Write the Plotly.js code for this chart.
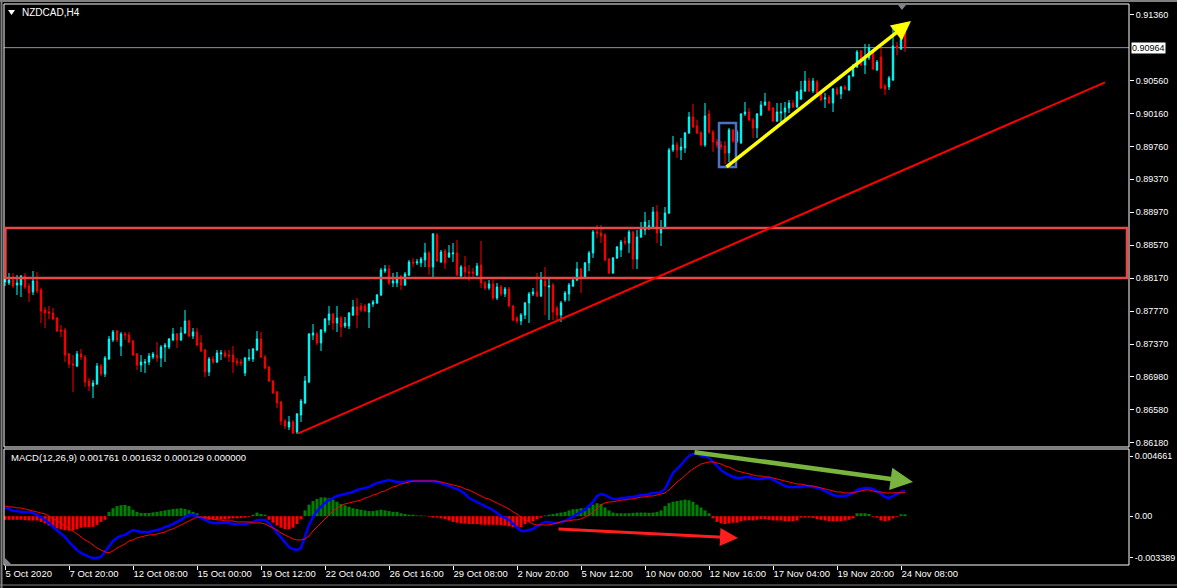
<!DOCTYPE html>
<html><head><meta charset="utf-8">
<script src="https://cdn.plot.ly/plotly-3.0.1.min.js"></script>
<style>html,body{margin:0;padding:0;background:#000;overflow:hidden}#chart{width:1177px;height:588px}</style>
</head><body><div id="chart"></div>
<script>
const symbolTitle = 'NZDCAD,H4';
const macdTitle = 'MACD(12,26,9) 0.001761 0.001632 0.000129 0.000000';

const openP = [
0.88124,0.88112,0.88148,0.88087,0.88087,0.88196,0.88075,0.88003,0.88136,0.88027,
0.87784,0.87760,0.87748,0.87687,0.87542,0.87542,0.87252,0.87130,0.87105,0.87252,
0.87215,0.86924,0.86863,0.86888,0.87105,0.87009,0.87191,0.87421,0.87530,0.87348,
0.87494,0.87481,0.87409,0.87252,0.87117,0.87142,0.87154,0.87215,0.87239,0.87203,
0.87336,0.87336,0.87421,0.87494,0.87421,0.87506,0.87651,0.87469,0.87518,0.87385,
0.87300,0.87033,0.87191,0.87154,0.87252,0.87264,0.87239,0.87239,0.87166,0.87154,
0.87021,0.87191,0.87191,0.87300,0.87433,0.87215,0.87093,0.86924,0.86791,0.86670,
0.86439,0.86366,0.86427,0.86306,0.86512,0.86658,0.86912,0.87481,0.87494,0.87385,
0.87530,0.87663,0.87736,0.87627,0.87687,0.87590,0.87590,0.87723,0.87821,0.87833,
0.87833,0.87760,0.87857,0.87870,0.87966,0.88257,0.88282,0.88112,0.88112,0.88196,
0.88087,0.88208,0.88367,0.88355,0.88355,0.88391,0.88476,0.88306,0.88694,0.88367,
0.88500,0.88427,0.88464,0.88476,0.88196,0.88306,0.88245,0.88245,0.88208,0.88330,
0.88112,0.88051,0.88100,0.87930,0.88063,0.87979,0.88039,0.87833,0.87687,0.87651,
0.87723,0.87870,0.87979,0.88003,0.87954,0.88136,0.88063,0.88087,0.87809,0.87723,
0.87906,0.87979,0.88075,0.88148,0.88282,0.88184,0.88355,0.88476,0.88730,0.88718,
0.88694,0.88403,0.88233,0.88415,0.88512,0.88621,0.88597,0.88730,0.88403,0.88669,
0.88754,0.88790,0.88790,0.88973,0.88718,0.88778,0.88960,0.89724,0.89785,0.89724,
0.89748,0.89930,0.90124,0.90015,0.89930,0.89785,0.90160,0.89942,0.89821,0.89785,
0.89773,0.89688,0.89966,0.89833,0.89809,0.90160,0.90184,0.90087,0.89991,0.90148,
0.90269,0.90306,0.90233,0.90075,0.90172,0.90184,0.90233,0.90294,0.90245,0.90342,
0.90439,0.90560,0.90439,0.90548,0.90415,0.90342,0.90366,0.90294,0.90463,0.90403,
0.90488,0.90451,0.90621,0.90730,0.90924,0.90754,0.90839,0.90924,0.90694,0.90851,
0.90500,0.90488,0.90572,0.90984,0.90948,0.91154];

const highP = [
0.88196,0.88233,0.88233,0.88208,0.88208,0.88233,0.88112,0.88257,0.88245,0.88051,
0.87821,0.87833,0.87809,0.87699,0.87602,0.87566,0.87264,0.87239,0.87288,0.87312,
0.87239,0.86960,0.86936,0.87142,0.87130,0.87227,0.87469,0.87542,0.87542,0.87518,
0.87518,0.87518,0.87421,0.87264,0.87239,0.87191,0.87264,0.87276,0.87397,0.87360,
0.87385,0.87445,0.87566,0.87506,0.87578,0.87784,0.87663,0.87566,0.87566,0.87481,
0.87312,0.87215,0.87227,0.87300,0.87300,0.87300,0.87300,0.87348,0.87203,0.87191,
0.87215,0.87312,0.87324,0.87530,0.87518,0.87239,0.87105,0.86936,0.86803,0.86682,
0.86463,0.86500,0.86451,0.86536,0.86706,0.86984,0.87506,0.87614,0.87518,0.87554,
0.87687,0.87833,0.87748,0.87833,0.87711,0.87699,0.87760,0.87906,0.87930,0.87870,
0.87857,0.87870,0.87906,0.87979,0.88294,0.88330,0.88330,0.88233,0.88245,0.88208,
0.88245,0.88391,0.88415,0.88403,0.88427,0.88597,0.88500,0.88718,0.88718,0.88512,
0.88524,0.88572,0.88597,0.88633,0.88330,0.88439,0.88330,0.88294,0.88355,0.88621,
0.88136,0.88148,0.88148,0.88112,0.88087,0.88063,0.88063,0.87845,0.87711,0.87748,
0.87882,0.88003,0.88051,0.88233,0.88245,0.88306,0.88172,0.88112,0.87833,0.87894,
0.88015,0.88112,0.88172,0.88367,0.88294,0.88367,0.88500,0.88754,0.88815,0.88815,
0.88718,0.88415,0.88427,0.88560,0.88633,0.88669,0.88754,0.88742,0.88754,0.88851,
0.88973,0.88875,0.89033,0.89057,0.88875,0.89033,0.89748,0.89894,0.89821,0.89869,
0.89942,0.90184,0.90281,0.90087,0.89954,0.90294,0.90209,0.89966,0.89857,0.89833,
0.89833,0.89991,0.89979,0.89966,0.90172,0.90306,0.90233,0.90112,0.90172,0.90318,
0.90415,0.90318,0.90245,0.90294,0.90294,0.90306,0.90330,0.90330,0.90439,0.90560,
0.90681,0.90597,0.90597,0.90572,0.90427,0.90415,0.90390,0.90475,0.90488,0.90500,
0.90512,0.90633,0.90766,0.90936,0.90936,0.91009,0.91009,0.90948,0.90815,0.90960,
0.90524,0.90621,0.91203,0.91033,0.91203,0.91178];

const lowP = [
0.88075,0.88087,0.88051,0.87966,0.87942,0.88039,0.87882,0.87966,0.87991,0.87627,
0.87566,0.87675,0.87663,0.87518,0.87457,0.87154,0.87081,0.86791,0.87093,0.87178,
0.86851,0.86803,0.86718,0.86875,0.86984,0.86972,0.87178,0.87397,0.87397,0.87227,
0.87421,0.87385,0.87227,0.87057,0.87033,0.87021,0.87117,0.87191,0.87154,0.87093,
0.87154,0.87312,0.87409,0.87324,0.87409,0.87494,0.87457,0.87433,0.87348,0.87276,
0.86972,0.86984,0.87130,0.87142,0.87178,0.87203,0.87154,0.87021,0.87105,0.87105,
0.86984,0.87166,0.87154,0.87288,0.87203,0.87069,0.86912,0.86767,0.86597,0.86390,
0.86342,0.86330,0.86282,0.86282,0.86427,0.86646,0.86900,0.87421,0.87360,0.87288,
0.87506,0.87602,0.87542,0.87518,0.87457,0.87566,0.87554,0.87711,0.87566,0.87760,
0.87760,0.87566,0.87821,0.87857,0.87954,0.88233,0.88087,0.88063,0.88063,0.88027,
0.88075,0.88196,0.88306,0.88330,0.88306,0.88306,0.88208,0.88184,0.88367,0.88355,
0.88282,0.88415,0.88367,0.88196,0.88172,0.88184,0.88136,0.88160,0.88196,0.88051,
0.88027,0.88027,0.87906,0.87906,0.87954,0.87942,0.87821,0.87651,0.87627,0.87602,
0.87675,0.87627,0.87954,0.87942,0.87942,0.87723,0.87663,0.87663,0.87663,0.87639,
0.87882,0.87894,0.88063,0.88136,0.87991,0.88172,0.88257,0.88415,0.88657,0.88597,
0.88379,0.88221,0.88221,0.88403,0.88427,0.88572,0.88476,0.88282,0.88282,0.88657,
0.88694,0.88754,0.88778,0.88597,0.88560,0.88766,0.88948,0.89700,0.89627,0.89603,
0.89688,0.89918,0.89991,0.89918,0.89773,0.89761,0.89918,0.89700,0.89748,0.89724,
0.89554,0.89578,0.89809,0.89809,0.89797,0.90136,0.90075,0.89869,0.89869,0.90136,
0.90257,0.90197,0.90063,0.90063,0.90051,0.90087,0.90172,0.90233,0.90233,0.90330,
0.90427,0.90427,0.90415,0.90390,0.90318,0.90233,0.90281,0.90184,0.90390,0.90342,
0.90451,0.90439,0.90609,0.90718,0.90742,0.90645,0.90815,0.90694,0.90681,0.90463,
0.90390,0.90451,0.90560,0.90875,0.90936,0.90912];

const closeP = [
0.88160,0.88148,0.88075,0.88112,0.88196,0.88063,0.87991,0.88136,0.88015,0.87772,
0.87748,0.87748,0.87675,0.87530,0.87530,0.87239,0.87130,0.87117,0.87252,0.87215,
0.86912,0.86863,0.86900,0.87105,0.87009,0.87203,0.87433,0.87518,0.87421,0.87494,
0.87481,0.87397,0.87239,0.87117,0.87154,0.87154,0.87227,0.87252,0.87203,0.87336,
0.87360,0.87433,0.87494,0.87421,0.87506,0.87651,0.87469,0.87518,0.87360,0.87288,
0.87033,0.87191,0.87154,0.87264,0.87264,0.87227,0.87227,0.87154,0.87142,0.87142,
0.87203,0.87203,0.87312,0.87433,0.87215,0.87081,0.86924,0.86779,0.86658,0.86439,
0.86378,0.86427,0.86294,0.86524,0.86682,0.86924,0.87494,0.87506,0.87385,0.87542,
0.87675,0.87736,0.87627,0.87687,0.87578,0.87627,0.87748,0.87821,0.87723,0.87784,
0.87772,0.87857,0.87882,0.87966,0.88269,0.88282,0.88112,0.88136,0.88184,0.88087,
0.88221,0.88367,0.88355,0.88367,0.88403,0.88476,0.88306,0.88706,0.88379,0.88488,
0.88355,0.88476,0.88476,0.88208,0.88306,0.88245,0.88233,0.88233,0.88318,0.88112,
0.88051,0.88100,0.87930,0.88063,0.87979,0.88039,0.87833,0.87663,0.87651,0.87723,
0.87870,0.87979,0.88003,0.87954,0.88148,0.88075,0.88075,0.87760,0.87723,0.87870,
0.87991,0.88087,0.88148,0.88282,0.88184,0.88355,0.88476,0.88730,0.88718,0.88682,
0.88391,0.88233,0.88415,0.88548,0.88609,0.88597,0.88730,0.88403,0.88669,0.88766,
0.88851,0.88803,0.88973,0.88718,0.88778,0.88960,0.89724,0.89785,0.89724,0.89761,
0.89930,0.90124,0.90003,0.89930,0.89785,0.90136,0.89942,0.89821,0.89785,0.89761,
0.89688,0.89966,0.89833,0.89942,0.90160,0.90184,0.90087,0.89991,0.90160,0.90269,
0.90306,0.90209,0.90075,0.90184,0.90184,0.90233,0.90294,0.90245,0.90427,0.90451,
0.90560,0.90439,0.90560,0.90415,0.90330,0.90354,0.90294,0.90463,0.90403,0.90488,
0.90463,0.90621,0.90730,0.90912,0.90754,0.90839,0.90960,0.90706,0.90790,0.90475,
0.90463,0.90597,0.90984,0.90960,0.91166,0.90964];

const macdMain = [
0.00057,0.00050,0.00036,0.00036,0.00029,0.00029,0.00029,0.00022,0.00008,-0.00006,
-0.00026,-0.00047,-0.00075,-0.00096,-0.00117,-0.00144,-0.00179,-0.00207,-0.00235,-0.00255,
-0.00269,-0.00283,-0.00290,-0.00290,-0.00283,-0.00248,-0.00207,-0.00172,-0.00151,-0.00137,
-0.00130,-0.00110,-0.00096,-0.00103,-0.00110,-0.00110,-0.00110,-0.00103,-0.00096,-0.00089,
-0.00075,-0.00068,-0.00054,-0.00040,-0.00026,-0.00006,0.00008,0.00008,0.00001,-0.00012,
-0.00026,-0.00040,-0.00047,-0.00047,-0.00047,-0.00047,-0.00047,-0.00054,-0.00054,-0.00054,
-0.00054,-0.00047,-0.00040,-0.00026,-0.00026,-0.00026,-0.00047,-0.00082,-0.00117,-0.00151,
-0.00179,-0.00214,-0.00228,-0.00235,-0.00221,-0.00144,-0.00061,-0.00006,0.00036,0.00064,
0.00092,0.00112,0.00126,0.00140,0.00147,0.00154,0.00161,0.00168,0.00182,0.00189,
0.00196,0.00203,0.00217,0.00230,0.00237,0.00244,0.00251,0.00244,0.00237,0.00237,
0.00237,0.00244,0.00244,0.00244,0.00244,0.00244,0.00244,0.00244,0.00237,0.00230,
0.00217,0.00210,0.00196,0.00189,0.00175,0.00154,0.00126,0.00112,0.00099,0.00085,
0.00071,0.00057,0.00043,0.00022,0.00001,-0.00012,-0.00026,-0.00054,-0.00082,-0.00103,
-0.00103,-0.00096,-0.00089,-0.00068,-0.00054,-0.00040,-0.00040,-0.00047,-0.00047,-0.00040,
-0.00033,-0.00019,0.00001,0.00015,0.00029,0.00043,0.00071,0.00099,0.00140,0.00154,
0.00147,0.00133,0.00119,0.00119,0.00126,0.00126,0.00133,0.00133,0.00140,0.00147,
0.00147,0.00154,0.00161,0.00161,0.00168,0.00189,0.00244,0.00300,0.00328,0.00355,
0.00390,0.00418,0.00432,0.00432,0.00418,0.00418,0.00404,0.00376,0.00348,0.00321,
0.00300,0.00286,0.00272,0.00265,0.00265,0.00272,0.00272,0.00265,0.00258,0.00258,
0.00265,0.00265,0.00251,0.00237,0.00223,0.00210,0.00203,0.00203,0.00203,0.00203,
0.00210,0.00210,0.00203,0.00196,0.00189,0.00175,0.00161,0.00147,0.00140,0.00140,
0.00140,0.00147,0.00161,0.00182,0.00189,0.00196,0.00196,0.00189,0.00175,0.00154,
0.00133,0.00126,0.00140,0.00154,0.00168,0.001761];

const macdSignal = [
0.00071,0.00064,0.00064,0.00057,0.00057,0.00050,0.00043,0.00036,0.00029,0.00022,
0.00015,0.00001,-0.00019,-0.00033,-0.00047,-0.00068,-0.00089,-0.00103,-0.00124,-0.00144,
-0.00165,-0.00179,-0.00200,-0.00221,-0.00235,-0.00248,-0.00255,-0.00241,-0.00221,-0.00207,
-0.00193,-0.00172,-0.00165,-0.00151,-0.00144,-0.00137,-0.00130,-0.00130,-0.00124,-0.00117,
-0.00110,-0.00096,-0.00089,-0.00075,-0.00061,-0.00047,-0.00033,-0.00019,-0.00006,-0.00006,
-0.00012,-0.00012,-0.00019,-0.00026,-0.00026,-0.00033,-0.00033,-0.00033,-0.00040,-0.00040,
-0.00040,-0.00040,-0.00047,-0.00047,-0.00047,-0.00054,-0.00068,-0.00082,-0.00096,-0.00117,
-0.00130,-0.00144,-0.00158,-0.00165,-0.00165,-0.00158,-0.00137,-0.00103,-0.00075,-0.00047,
-0.00019,0.00008,0.00036,0.00057,0.00071,0.00085,0.00092,0.00099,0.00105,0.00112,
0.00126,0.00133,0.00147,0.00154,0.00168,0.00175,0.00189,0.00203,0.00210,0.00223,
0.00230,0.00237,0.00244,0.00244,0.00244,0.00244,0.00244,0.00244,0.00244,0.00237,
0.00230,0.00223,0.00217,0.00210,0.00203,0.00189,0.00182,0.00168,0.00154,0.00140,
0.00126,0.00119,0.00105,0.00092,0.00078,0.00064,0.00050,0.00029,0.00015,-0.00006,
-0.00026,-0.00040,-0.00054,-0.00061,-0.00061,-0.00061,-0.00061,-0.00054,-0.00047,-0.00040,
-0.00033,-0.00033,-0.00026,-0.00026,-0.00019,-0.00006,0.00008,0.00029,0.00057,0.00078,
0.00092,0.00099,0.00099,0.00105,0.00112,0.00112,0.00119,0.00119,0.00126,0.00133,
0.00133,0.00140,0.00140,0.00147,0.00154,0.00161,0.00182,0.00210,0.00237,0.00258,
0.00286,0.00307,0.00328,0.00348,0.00362,0.00369,0.00376,0.00376,0.00369,0.00362,
0.00348,0.00341,0.00328,0.00314,0.00307,0.00300,0.00293,0.00286,0.00279,0.00279,
0.00272,0.00272,0.00265,0.00258,0.00251,0.00244,0.00237,0.00230,0.00223,0.00223,
0.00217,0.00210,0.00210,0.00203,0.00196,0.00189,0.00182,0.00175,0.00168,0.00168,
0.00161,0.00161,0.00161,0.00168,0.00175,0.00182,0.00182,0.00175,0.00168,0.00168,
0.00161,0.00161,0.00161,0.00161,0.00161,0.001632];

const macdHist = [
-0.00025,-0.00025,-0.00025,-0.00025,-0.00025,-0.00028,-0.0003,-0.0003,-0.0003,-0.0004,
-0.0005,-0.00065,-0.00075,-0.00085,-0.00092,-0.00098,-0.001,-0.00098,-0.0009,-0.0008,
-0.00076,-0.00076,-0.00074,-0.0006,-0.0004,-0.00025,0.0003,0.00055,0.0007,0.00076,
0.00078,0.0007,0.00045,0.0003,0.00022,0.00022,0.00022,0.00026,0.0003,0.00035,
0.0004,0.00045,0.0005,0.00052,0.00055,0.0005,0.00042,0.0003,0.0002,-0.0001,
-0.0002,-0.00025,-0.00025,-0.00024,-0.00022,-0.0002,-0.00018,-0.00015,-0.00015,-0.00012,
-0.0001,-0.00005,0.0001,0.00025,0.00015,0.0001,-0.00025,-0.00045,-0.00065,-0.0008,
-0.0009,-0.0009,-0.0008,-0.00055,-0.0002,0.0004,0.0008,0.00105,0.0012,0.0013,
0.0013,0.00125,0.00115,0.001,0.00085,0.00075,0.00065,0.00055,0.0005,0.00045,
0.0004,0.00035,0.00035,0.0004,0.00045,0.0004,0.00035,0.0003,0.0003,0.0002,
0.00015,0.0001,0.0001,0.00005,0.00005,0.00003,-0.00005,-0.0001,-0.0001,-0.00015,
-0.0002,-0.0003,-0.0004,-0.00045,-0.0005,-0.00052,-0.00055,-0.00055,-0.00055,-0.00058,
-0.0006,-0.0006,-0.0006,-0.0006,-0.00062,-0.00065,-0.0007,-0.00075,-0.00075,-0.00075,
-0.00055,-0.0004,-0.00035,-0.0002,-0.0001,0.00005,0.0001,0.00015,0.0002,0.00025,
0.0003,0.0004,0.00048,0.0005,0.00055,0.00055,0.0006,0.0008,0.0009,0.00085,
0.0006,0.0004,0.00025,0.0002,0.0002,0.0002,0.0002,0.00023,0.00025,0.00025,
0.00025,0.00023,0.00025,0.0003,0.0004,0.0007,0.0009,0.001,0.00105,0.0011,
0.00115,0.0011,0.001,0.0008,0.0006,0.0004,0.0002,-0.00015,-0.0004,-0.0005,
-0.00055,-0.0005,-0.00045,-0.00045,-0.00035,-0.0003,-0.00028,-0.0003,-0.00025,-0.0002,
-0.0002,-0.00025,-0.0003,-0.0003,-0.0003,-0.00035,-0.00035,-0.00035,-0.0003,-0.0001,
-0.0001,-0.0001,-0.00012,-0.0002,-0.00025,-0.0003,-0.00035,-0.00035,-0.00035,-0.00035,
-0.0003,-0.00025,-0.00015,0.0002,0.0002,0.0002,0.00015,-0.00005,-0.0001,-0.0003,
-0.00035,-0.0003,-0.00015,-0.00005,0.00013,0.000129];

const timeTickBars = [0,16,32,48,64,80,96,112,128,144,160,176,192,208,224];
const timeTickLabels = ['5 Oct 2020','7 Oct 20:00','12 Oct 08:00','15 Oct 00:00','19 Oct 12:00','22 Oct 04:00','26 Oct 16:00','29 Oct 08:00','2 Nov 20:00','5 Nov 12:00','10 Nov 00:00','12 Nov 16:00','17 Nov 04:00','19 Nov 20:00','24 Nov 08:00'];
const priceTicks = [0.91360,0.90560,0.90160,0.89760,0.89370,0.88970,0.88570,0.88170,0.87770,0.87370,0.86980,0.86580,0.86180];
const macdTickVals = [0.004175, 0, -0.002903];
const macdTickLabels = ['0.004661','0.00','-0.003389'];
const bidPrice = 0.90964;

// drawn objects (bar index, price)
const zoneBox = {x0:0.1, x1:280.5, y0:0.88172, y1:0.88778};
const trendLine = {x0:73.3, y0:0.86289, x1:275, y1:0.90544};
const blueBox = {x0:178.5, x1:182.75, y0:0.89518, y1:0.90051};
const yellowArrow = {x0:180, y0:0.89505, x1:226.5, y1:0.91287};
const greenArrow = {x0:172, y0:0.004455, x1:227, y1:0.002373};
const redArrow = {x0:138, y0:-0.000888, x1:183.25, y1:-0.001513};

const bars = openP.map((_, i) => i);
const FONT = 'Liberation Sans, Arial, sans-serif';

const traces = [
  {type:'candlestick', x:bars, open:openP, high:highP, low:lowP, close:closeP,
   xaxis:'x', yaxis:'y', whiskerwidth:0, hoverinfo:'skip',
   increasing:{line:{color:'#00FFFF', width:1}, fillcolor:'#00FFFF'},
   decreasing:{line:{color:'#FF0000', width:1}, fillcolor:'#FF0000'}},
  {type:'bar', x:bars, y:macdHist, xaxis:'x', yaxis:'y2', width:0.75, hoverinfo:'skip',
   marker:{color:macdHist.map(v => v >= 0 ? '#008000' : '#FF0000'), line:{width:0}}},
  {type:'scatter', mode:'lines', x:bars, y:macdMain, xaxis:'x', yaxis:'y2', hoverinfo:'skip',
   line:{color:'#0000FF', width:2.5}},
  {type:'scatter', mode:'lines', x:bars, y:macdSignal, xaxis:'x', yaxis:'y2', hoverinfo:'skip',
   line:{color:'#FF0000', width:1}}
];

const mainDom = [0.21034, 1];
const macdDom = [0, 0.20677];

const layout = {
  width:1177, height:588,
  margin:{l:4, r:48, t:4, b:23, pad:0},
  paper_bgcolor:'#000', plot_bgcolor:'#000',
  showlegend:false, hovermode:false, dragmode:false,
  boxgap:0.5,
  font:{family:FONT, size:9.5, color:'#FFFFFF'},
  xaxis:{domain:[0,1], range:[-0.25,281], anchor:'y2', rangeslider:{visible:false},
    showgrid:false, zeroline:false, showline:false,
    tickmode:'array', tickvals:timeTickBars, ticktext:timeTickLabels, tickangle:0,
    ticks:'outside', ticklen:4, tickwidth:1, tickcolor:'#FFFFFF',
    ticklabelposition:'outside right', tickfont:{family:FONT, size:9.5, color:'#FFFFFF'}},
  yaxis:{domain:mainDom, range:[0.86124,0.91493], side:'right', anchor:'x',
    showgrid:false, zeroline:false, showline:false,
    tickmode:'array', tickvals:priceTicks, ticktext:priceTicks.map(v => v.toFixed(5)),
    ticks:'outside', ticklen:4, tickwidth:1, tickcolor:'#FFFFFF',
    tickfont:{family:FONT, size:9, color:'#FFFFFF'}},
  yaxis2:{domain:macdDom, range:[-0.003389,0.004661], side:'right', anchor:'x',
    showgrid:false, zeroline:false, showline:false,
    tickmode:'array', tickvals:macdTickVals, ticktext:macdTickLabels,
    ticks:'outside', ticklen:3, tickwidth:1, tickcolor:'#FFFFFF',
    tickfont:{family:FONT, size:9, color:'#FFFFFF'}},
  shapes:[
    {type:'line', xref:'paper', yref:'paper', x0:-0.004, x1:1.045, y0:1.0053, y1:1.0053, line:{color:'#808080', width:2}},
    {type:'line', xref:'paper', yref:'paper', x0:-0.0022, x1:-0.0022, y0:-0.045, y1:1.008, line:{color:'#808080', width:2}},
    {type:'line', xref:'paper', yref:'paper', x0:-0.004, x1:1.045, y0:-0.0357, y1:-0.0357, line:{color:'#808080', width:1}},
    {type:'line', xref:'paper', yref:'y', x0:0, x1:1, y0:bidPrice, y1:bidPrice, layer:'below', line:{color:'#8395A4', width:1}},
    {type:'rect', xref:'paper', yref:'paper', x0:0, x1:1, y0:mainDom[0], y1:mainDom[1], line:{color:'#FFFFFF', width:1}},
    {type:'rect', xref:'paper', yref:'paper', x0:0, x1:1, y0:macdDom[0], y1:macdDom[1], line:{color:'#FFFFFF', width:1}},
    {type:'rect', xref:'x', yref:'y', x0:zoneBox.x0, x1:zoneBox.x1, y0:zoneBox.y0, y1:zoneBox.y1, line:{color:'#E84848', width:2.5}},
    {type:'line', xref:'x', yref:'y', x0:trendLine.x0, y0:trendLine.y0, x1:trendLine.x1, y1:trendLine.y1, line:{color:'#FF0000', width:2}},
    {type:'rect', xref:'x', yref:'y', x0:blueBox.x0, x1:blueBox.x1, y0:blueBox.y0, y1:blueBox.y1, line:{color:'#4E72C2', width:2.5}},
    {type:'path', xref:'paper', yref:'paper', path:'M 0.0036 0.9893 L 0.0098 0.9893 L 0.0067 0.9804 Z', fillcolor:'#FFFFFF', line:{width:0}},
    {type:'path', xref:'paper', yref:'paper', path:'M 0.7947 0.9982 L 0.8018 0.9982 L 0.7982 0.9893 Z', fillcolor:'#7D8590', line:{width:0}},
    {type:'path', xref:'paper', yref:'paper', path:'M 0.0009 0.0125 L 0.0009 0.0018 L 0.0062 0.0018 Z', fillcolor:'#7D8590', line:{width:0}}
  ],
  annotations:[
    {xref:'paper', yref:'paper', x:0.0142, y:0.984, xanchor:'left', yanchor:'middle', showarrow:false,
     text:symbolTitle, font:{family:FONT, size:10, color:'#FFFFFF'}},
    {xref:'paper', yref:'paper', x:0.0044, y:0.1925, xanchor:'left', yanchor:'middle', showarrow:false,
     text:macdTitle, font:{family:FONT, size:9.5, color:'#FFFFFF'}},
    {xref:'paper', yref:'y', x:1.0018, y:bidPrice, xanchor:'left', yanchor:'middle', showarrow:false,
     text:bidPrice.toFixed(5), bgcolor:'#FFFFFF', borderpad:0, font:{family:FONT, size:9, color:'#000000'}},
    {xref:'x', yref:'y', axref:'x', ayref:'y', x:yellowArrow.x1, y:yellowArrow.y1, ax:yellowArrow.x0, ay:yellowArrow.y0,
     text:'', showarrow:true, arrowhead:2, arrowsize:1.1, arrowwidth:3.5, arrowcolor:'#FFFF00', standoff:0, startstandoff:0},
    {xref:'x', yref:'y2', axref:'x', ayref:'y2', x:greenArrow.x1, y:greenArrow.y1, ax:greenArrow.x0, ay:greenArrow.y0,
     text:'', showarrow:true, arrowhead:2, arrowsize:1, arrowwidth:4.5, arrowcolor:'#78B43E', standoff:0, startstandoff:0},
    {xref:'x', yref:'y2', axref:'x', ayref:'y2', x:redArrow.x1, y:redArrow.y1, ax:redArrow.x0, ay:redArrow.y0,
     text:'', showarrow:true, arrowhead:2, arrowsize:1.2, arrowwidth:3, arrowcolor:'#FF1E1E', standoff:0, startstandoff:0}
  ]
};

Plotly.newPlot('chart', traces, layout, {staticPlot:true, displayModeBar:false});
</script>
</body></html>
